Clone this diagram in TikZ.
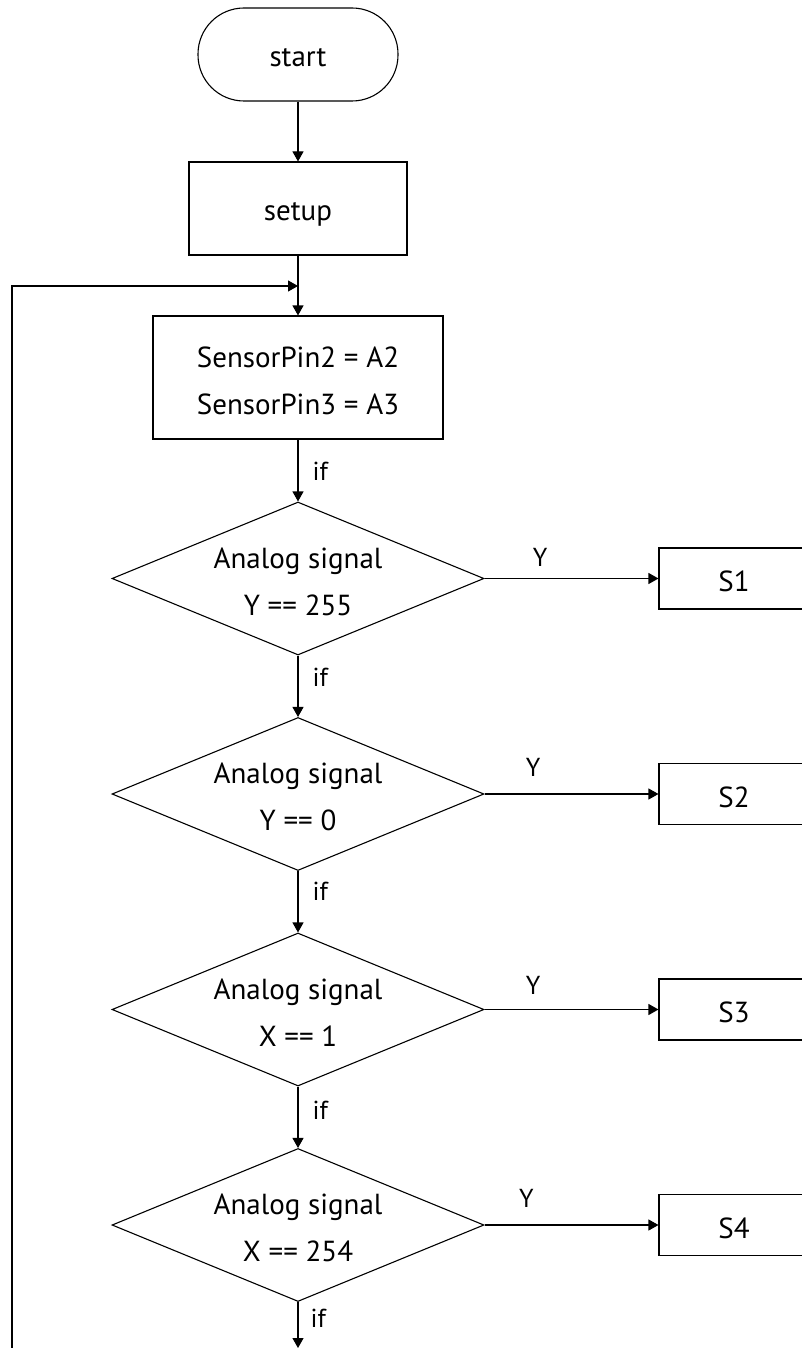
\documentclass[tikz,border=0pt]{standalone}
\usepackage{fontspec}
\setmainfont{PT Sans}
\usetikzlibrary{shapes.geometric,arrows.meta}
\newcommand{\lowtext}[1]{\raisebox{-3pt}[\height][\depth]{#1}}
\begin{document}
\begin{tikzpicture}[x=1pt,y=-1pt,
  every node/.style={font=\fontsize{29}{47}\selectfont},
  base/.style={draw, line width=1.1pt, inner sep=0pt, align=center, text depth=0pt},
  term/.style={base, minimum width=200pt, minimum height=93pt, rounded corners=46pt},
  proc/.style={base, minimum width=218pt, minimum height=93pt},
  bigproc/.style={base, minimum width=290pt, minimum height=123pt},
  dec/.style={base, shape=diamond, aspect=2.42, minimum width=372pt, minimum height=153pt},
  sbox/.style={base, minimum width=150pt, minimum height=61pt},
  conn/.style={line width=1.1pt, -{Triangle[length=10pt,width=11pt]}},
  lbl/.style={font=\fontsize{26}{30}\selectfont, inner sep=0pt}
]
\clip (0,0) rectangle (802,1348);
\node[term] (start) at (298,54.5) {\lowtext{start}};
\node[proc] (setup) at (298,208.5) {\lowtext{setup}};
\node[bigproc] (sp) at (298,377.5) {\lowtext{SensorPin2 = A2}\\\lowtext{SensorPin3 = A3}};
\node[dec] (d1) at (298,578.5) {\lowtext{Analog signal}\\\lowtext{Y == 255}};
\node[dec] (d2) at (298,794) {\lowtext{Analog signal}\\\lowtext{Y == 0}};
\node[dec] (d3) at (298,1009.5) {\lowtext{Analog signal}\\\lowtext{X == 1}};
\node[dec] (d4) at (298,1225) {\lowtext{Analog signal}\\\lowtext{X == 254}};
\node[sbox] (s1) at (734,578.5) {\lowtext{S1}};
\node[sbox] (s2) at (734,794) {\lowtext{S2}};
\node[sbox] (s3) at (734,1009.5) {\lowtext{S3}};
\node[sbox] (s4) at (734,1225) {\lowtext{S4}};
\coordinate (lb) at (12,1360);
\coordinate (lj) at (298,286);
\coordinate (end) at (298,1348);

\draw[conn] (start) -- (setup);
\draw[conn] (setup) -- (sp);
\draw[conn] (lb) |- (lj);
\draw[conn] (sp) -- node[lbl, pos=0.52, right=14pt] {if} (d1);
\draw[conn] (d1) -- node[lbl, pos=0.36, right=14pt] {if} (d2);
\draw[conn] (d2) -- node[lbl, pos=0.33, right=14pt] {if} (d3);
\draw[conn] (d3) -- node[lbl, pos=0.38, right=14pt] {if} (d4);
\draw[conn] (d4.south) -- node[lbl, pos=0.36, right=12pt] {if} (end);
\draw[conn] (d1.east) -- node[lbl, pos=0.32, above=11pt] {Y} (s1.west);
\draw[conn] (d2.east) -- node[lbl, pos=0.28, above=17pt] {Y} (s2.west);
\draw[conn] (d3.east) -- node[lbl, pos=0.28, above=14pt] {Y} (s3.west);
\draw[conn] (d4.east) -- node[lbl, pos=0.24, above=17pt] {Y} (s4.west);
\end{tikzpicture}
\end{document}
